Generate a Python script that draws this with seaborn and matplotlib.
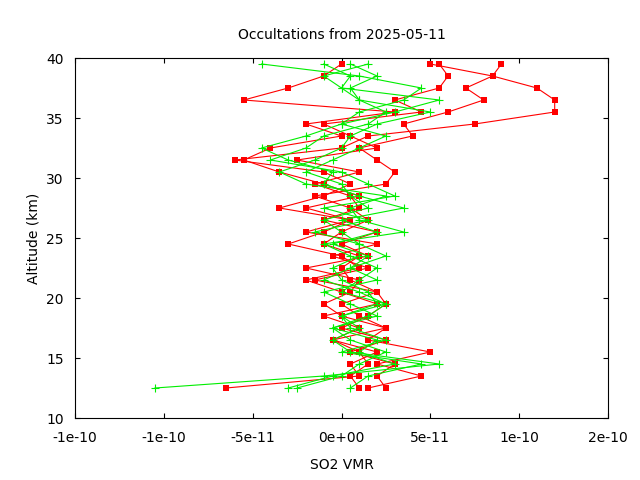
import numpy as np
import pandas as pd
import matplotlib
matplotlib.use("Agg")
import matplotlib.pyplot as plt
import seaborn as sns

# altitudes (km) and SO2 VMR profiles (units of 1e-11)
altitudes = [12.5 + i for i in range(28)]

red_profiles = [
    [-6.5, 1.0, 0.5, 2.0, -0.5, 1.0, -1.0, 2.0, 0.0, -2.0, 1.0, 0.0, -3.0, -1.0, 0.5, -2.0, 1.0, -1.0, -3.5, -5.5, -4.0, 0.0, -2.0, 3.0, -5.5, -3.0, -1.0, 0.0],
    [1.5, 4.5, 2.0, 5.0, 1.5, 2.5, 1.0, 0.0, 2.0, -1.5, 1.5, -0.5, 2.0, -2.0, 0.5, -3.5, -1.0, 0.5, -1.0, -6.0, 0.0, 1.5, 7.5, 12.0, 12.0, 11.0, 8.5, 9.0],
    [2.5, 2.0, 3.0, 0.5, 2.5, 0.0, 1.5, 2.5, 2.0, 0.5, 0.0, 1.0, -1.0, 0.0, 1.5, 0.5, -1.5, 2.5, 3.0, 2.0, 1.0, 4.0, 3.5, 6.0, 8.0, 7.0, 8.5, 5.0],
    [1.0, 0.5, 1.5, 1.0, -0.5, 2.5, 0.0, -1.0, 0.5, 1.0, -2.0, 1.5, 0.0, 2.0, -1.0, 1.0, 0.5, -1.5, 1.0, -2.5, 2.0, 0.5, -1.0, 4.5, 3.0, 5.5, 6.0, 5.5],
]
green_profiles = [
    [-10.5, -1.0, 5.5, 0.5, -0.5, 1.0, 0.0, 2.5, 1.0, -1.0, 0.5, 1.5, -0.5, 2.0, 0.0, 3.5, 1.0, -1.0, -0.5, -3.0, -4.5, -2.0, 0.0, 1.0, 3.5, 4.5, 1.0, -4.5],
    [-3.0, -0.5, 3.0, 1.0, 2.0, -0.5, 1.5, 2.5, 0.0, 1.0, 2.0, 0.5, -1.0, 3.5, 1.0, 0.5, 2.5, -2.0, -3.5, -1.5, 0.0, 0.5, 2.0, 5.0, 1.0, 0.0, -1.0, 1.5],
    [0.5, 1.5, 4.5, 0.0, 2.5, 0.5, 0.0, 2.0, 1.5, 0.0, -0.5, 1.0, 1.0, 0.0, -1.0, 1.5, 0.5, 0.0, -2.0, -0.5, 1.0, 2.5, 0.0, 3.0, 5.5, 0.0, 0.5, -1.0],
    [-2.5, 0.0, 1.0, 2.5, 0.5, -0.5, 2.0, 0.5, -1.0, 2.0, 0.5, 2.5, 1.0, -1.5, 1.5, -1.0, 3.0, 1.5, 0.0, -4.0, -2.0, -1.0, 1.5, 2.5, 1.0, 0.5, 2.0, 0.5],
]

xtick_vals = [-1.5e-10, -1e-10, -5e-11, 0, 5e-11, 1e-10, 1.5e-10]
xtick_labels = ["-1e-10", "-1e-10", "-5e-11", "0e+00", "5e-11", "1e-10", "2e-10"]

fig, ax = plt.subplots(figsize=(6.4, 4.8), dpi=100)
fig.subplots_adjust(left=75 / 640, right=608 / 640, top=1 - 58 / 480, bottom=1 - 418 / 480)

for prof in red_profiles:
    df = pd.DataFrame({"vmr": np.array(prof) * 1e-11, "alt": altitudes})
    sns.lineplot(data=df, x="vmr", y="alt", sort=False, estimator=None, orient="y", ax=ax,
                 color="red", lw=0.8, marker="s", markersize=5,
                 markeredgecolor="red", markeredgewidth=0)
for prof in green_profiles:
    df = pd.DataFrame({"vmr": np.array(prof) * 1e-11, "alt": altitudes})
    sns.lineplot(data=df, x="vmr", y="alt", sort=False, estimator=None, orient="y", ax=ax,
                 color="#00ee00", lw=0.8, marker="+", markersize=6,
                 markeredgecolor="#00ee00", markeredgewidth=0.8)

ax.set_xlim(-1.5e-10, 1.5e-10)
ax.set_ylim(10, 40)
ax.set_xticks(xtick_vals)
ax.set_xticklabels(xtick_labels)
ax.set_yticks(range(10, 41, 5))
ax.tick_params(direction="in", top=True, right=True, labelsize=10)
ax.tick_params(axis="x", pad=9)
ax.tick_params(axis="y", pad=8)
ax.set_xlabel("SO2 VMR", fontsize=10, labelpad=10)
ax.set_ylabel("Altitude (km)", fontsize=10)
ax.set_title("Occultations from 2025-05-11", fontsize=10, pad=14)

fig.savefig("out.png", dpi=100)
